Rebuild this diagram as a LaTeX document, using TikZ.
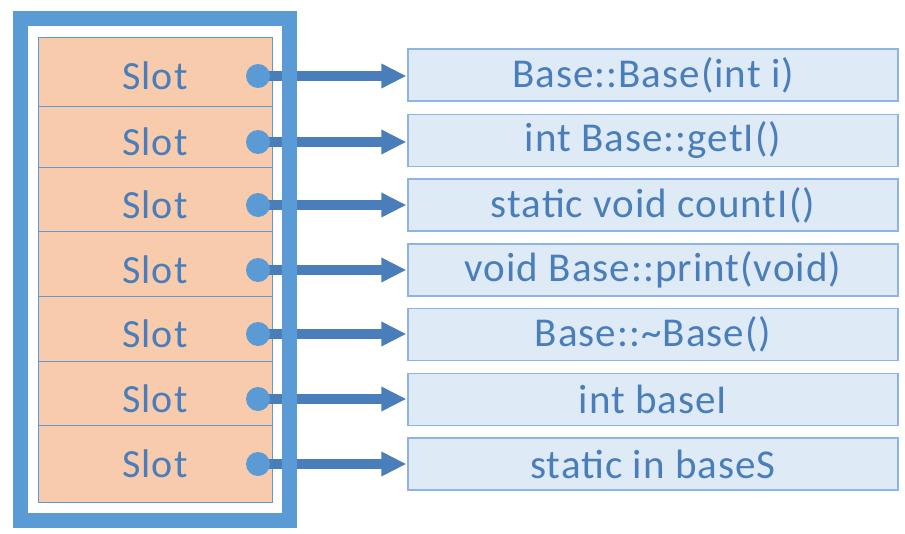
\documentclass[tikz,border=0pt]{standalone}
\usepackage{fontspec}
\setmainfont{Carlito}[LetterSpace=2.5]
\usetikzlibrary{arrows.meta}
\definecolor{frameblue}{HTML}{5B9BD5}
\definecolor{arrowblue}{HTML}{4A7EBB}
\definecolor{txtblue}{HTML}{4A7EBB}
\definecolor{slotfill}{HTML}{F8CBAD}
\definecolor{boxfill}{HTML}{DEEAF6}
\definecolor{boxline}{HTML}{8EB4E3}
\begin{document}
\begin{tikzpicture}[x=1pt,y=-1pt,
  slotbox/.style={draw=frameblue, line width=1pt, fill=slotfill, minimum width=234pt, inner sep=0pt},
  slottext/.style={text=txtblue, font=\fontsize{40}{46}\selectfont, inner sep=0pt},
  dotnode/.style={circle, fill=frameblue, minimum size=24pt, inner sep=0pt},
  funcbox/.style={draw=boxline, line width=1.2pt, fill=boxfill, minimum width=490pt, minimum height=52pt, inner sep=0pt, text=txtblue, font=\fontsize{41}{46}\selectfont},
  link/.style={draw=arrowblue, line width=9.5pt, -{Triangle[length=25pt,width=23pt]}, shorten >=1pt}
]
\useasboundingbox (0,0) rectangle (905,533);
% slots
\foreach \i/\a/\b in {1/37/106, 2/106/167, 3/167/231, 4/231/296, 5/296/361, 6/361/425, 7/425/502} {
  \node[slotbox, minimum height={\b-\a}] (s\i) at (155,{(\a+\b)/2}) {};
}
% rows
\foreach \i/\y in {1/76, 2/142, 3/205, 4/270, 5/334, 6/399, 7/464} {
  \node[slottext] (t\i) at (155,\y) {Slot};
  \coordinate (c\i) at (258,\y);
}
\node[funcbox] (f1) at (653,75) {Base::Base(int i)};
\node[funcbox] (f2) at (653,140.5) {int Base::getI()};
\node[funcbox] (f3) at (653,205) {static void countI()};
\node[funcbox] (f4) at (653,270) {void Base::print(void)};
\node[funcbox] (f5) at (653,334.5) {Base::\textasciitilde Base()};
\node[funcbox] (f6) at (653,399.5) {int baseI};
\node[funcbox] (f7) at (653,464) {static in baseS};
\foreach \i in {1,...,7} {
  \draw[link] (c\i) -- (c\i -| f\i.west);
  \node[dotnode] (d\i) at (c\i) {};
}
% frame
\draw[frameblue, line width=15pt] (20.5,18.5) rectangle (289.5,520.5);
\end{tikzpicture}
\end{document}
